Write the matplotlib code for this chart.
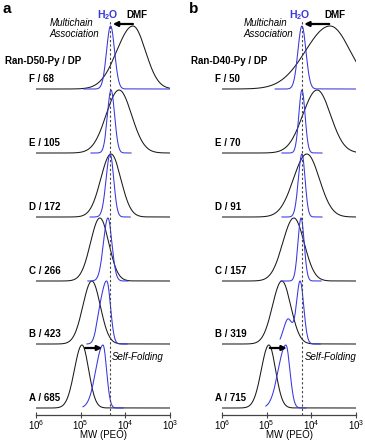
import numpy as np
import matplotlib.pyplot as plt

plt.rcParams['font.family'] = ['Liberation Sans', 'DejaVu Sans']
plt.rcParams['mathtext.fontset'] = 'custom'
plt.rcParams['mathtext.rm'] = 'Liberation Sans'
plt.rcParams['mathtext.bf'] = 'Liberation Sans:bold'
plt.rcParams['mathtext.it'] = 'Liberation Sans:italic'

# sample labels, bottom (A) to top (F)
labels_a = ['A / 685', 'B / 423', 'C / 266', 'D / 172', 'E / 105', 'F / 68']
labels_b = ['A / 715', 'B / 319', 'C / 157', 'D / 91', 'E / 70', 'F / 50']

# GPC traces: peak position (log10 MW) and
# peak widths in decades (hi = high-MW side, lo = low-MW side)
dmf_peak_a = [4.97, 4.75, 4.57, 4.32, 4.14, 3.83]
dmf_hi_a = [0.17, 0.20, 0.21, 0.23, 0.29, 0.36]
dmf_lo_a = [0.15, 0.19, 0.20, 0.22, 0.28, 0.28]
h2o_peak_a = [4.50, 4.41, 4.39, 4.34, 4.32, 4.33]
h2o_hi_a = [0.16, 0.11, 0.10, 0.09, 0.08, 0.09]
h2o_lo_a = [0.08, 0.08, 0.09, 0.08, 0.08, 0.09]
# shoulder on the high-MW side: (log10 MW, rel. height, width)
h2o_shoulder_a = [None, (4.58, 0.30, 0.08), None, None, None, None]

dmf_peak_b = [4.95, 4.66, 4.39, 4.10, 3.87, 3.58]
dmf_hi_b = [0.17, 0.21, 0.25, 0.30, 0.32, 0.55]
dmf_lo_b = [0.15, 0.20, 0.23, 0.28, 0.30, 0.45]
h2o_peak_b = [4.57, 4.25, 4.23, 4.21, 4.21, 4.21]
h2o_hi_b = [0.17, 0.08, 0.07, 0.08, 0.07, 0.09]
h2o_lo_b = [0.09, 0.08, 0.07, 0.07, 0.07, 0.09]
h2o_shoulder_b = [None, (4.52, 0.40, 0.10), None, None, None, None]

# dashed reference line (log10 MW)
ref_a = 4.343
ref_b = 4.21

W, H = 365, 441
BLUE = '#3636e0'
baselines = [7, 71, 134, 198, 262, 326]
amp = 63


def fx(px, py):
    return px / W, 1 - py / H


def trace(logm, mu, hi, lo, shoulder=None):
    w = np.where(logm > mu, hi, lo)
    y = np.exp(-0.5 * ((logm - mu) / w) ** 2)
    if shoulder is not None:
        s_mu, s_amp, s_w = shoulder
        y = y + s_amp * np.exp(-0.5 * ((logm - s_mu) / s_w) ** 2)
    return y / y.max()


fig = plt.figure(figsize=(W / 100, H / 100), dpi=100)

panels = [
    (36, labels_a, dmf_peak_a, dmf_hi_a, dmf_lo_a, h2o_peak_a, h2o_hi_a, h2o_lo_a, h2o_shoulder_a, ref_a, 'Ran-D50-Py / DP', 'a'),
    (222, labels_b, dmf_peak_b, dmf_hi_b, dmf_lo_b, h2o_peak_b, h2o_hi_b, h2o_lo_b, h2o_shoulder_b, ref_b, 'Ran-D40-Py / DP', 'b'),
]

logm = np.linspace(3, 6, 1500)
mw = 10 ** logm

for (x0, labels, dp, dh, dl, hp, hh, hl, hs, ref, title, letter) in panels:
    ax = fig.add_axes([x0 / W, 26 / H, 134 / W, 415 / H])
    ax.set_xscale('log')
    ax.set_xlim(1e6, 1e3)
    ax.set_ylim(0, 415)
    for s in ['top', 'left', 'right']:
        ax.spines[s].set_visible(False)
    ax.spines['bottom'].set_color('#444444')
    ax.spines['bottom'].set_linewidth(0.9)
    ax.set_yticks([])
    ax.set_xticks([1e6, 1e5, 1e4, 1e3])
    ax.set_xticklabels([r'$10^6$', r'$10^5$', r'$10^4$', r'$10^3$'])
    ax.minorticks_off()
    ax.tick_params(axis='x', direction='inout', length=4, width=0.8,
                   color='#444444', labelsize=7, pad=0.5)
    fig.text(*fx(x0 + 67, 438), 'MW (PEO)', fontsize=7, ha='center',
             va='baseline')

    for i in range(6):
        b = baselines[i]
        yd = trace(logm, dp[i], dh[i], dl[i])
        ax.plot(mw, b + amp * yd, color='#1a1a1a', lw=0.75)
        yw = trace(logm, hp[i], hh[i], hl[i], hs[i])
        if i == 5:
            keep = logm < hp[i] + 0.6
        else:
            keep = np.abs(logm - hp[i]) < 0.45
        ax.plot(mw[keep], b + amp * yw[keep], color=BLUE, lw=0.75)

    ax.plot([10 ** ref, 10 ** ref], [0, 395], color='#444444', lw=0.8,
            dashes=(2, 2))

    for i, lab in enumerate(labels):
        fig.text(*fx(x0 - 7, 415 - baselines[i] - 7), lab, fontsize=7,
                 fontweight='bold', va='baseline', ha='left')

    fig.text(*fx(x0 - 31, 64), title, fontsize=7, fontweight='bold',
             va='baseline', ha='left')
    fig.text(*fx(x0 - 33, 13), letter, fontsize=11, fontweight='bold',
             va='baseline', ha='left')

# panel a annotations
fig.text(*fx(108, 18), r'H$_\mathbf{2}$O', color=BLUE, fontsize=7.5,
         fontweight='bold', ha='center', va='baseline')
fig.text(*fx(126, 18), 'DMF', fontsize=7, fontweight='bold', ha='left',
         va='baseline')
fig.text(*fx(50, 26), 'Multichain', fontsize=7, style='italic', ha='left',
         va='baseline')
fig.text(*fx(49, 37), 'Association', fontsize=7, style='italic', ha='left',
         va='baseline')
fig.text(*fx(112, 360), 'Self-Folding', fontsize=7, style='italic',
         ha='left', va='baseline')

# panel b annotations
fig.text(*fx(300, 18), r'H$_\mathbf{2}$O', color=BLUE, fontsize=7.5,
         fontweight='bold', ha='center', va='baseline')
fig.text(*fx(324, 18), 'DMF', fontsize=7, fontweight='bold', ha='left',
         va='baseline')
fig.text(*fx(244, 26), 'Multichain', fontsize=7, style='italic', ha='left',
         va='baseline')
fig.text(*fx(243, 37), 'Association', fontsize=7, style='italic', ha='left',
         va='baseline')
fig.text(*fx(305, 360), 'Self-Folding', fontsize=7, style='italic',
         ha='left', va='baseline')

ax_a, ax_b = fig.axes
arrow = dict(arrowstyle='-|>', color='k', lw=1.6, mutation_scale=7,
             shrinkA=0, shrinkB=0)
ax_a.annotate('', xy=(10 ** 4.28, 391), xytext=(10 ** 3.83, 391),
              arrowprops=arrow)
ax_b.annotate('', xy=(10 ** 4.16, 391), xytext=(10 ** 3.60, 391),
              arrowprops=arrow)
ax_a.annotate('', xy=(10 ** 4.52, 67), xytext=(10 ** 4.90, 67),
              arrowprops=arrow)
ax_b.annotate('', xy=(10 ** 4.55, 67), xytext=(10 ** 4.93, 67),
              arrowprops=arrow)

fig.savefig('out.png', dpi=100)
